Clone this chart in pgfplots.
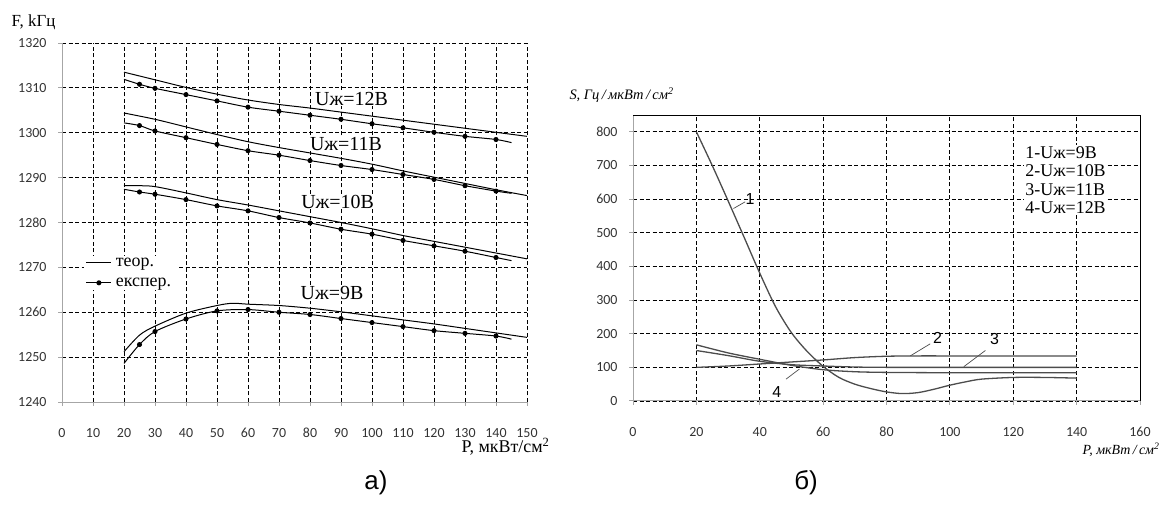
\documentclass[border=0pt]{standalone}
\usepackage{fontspec}
\setmainfont{Liberation Serif}
\newfontfamily\carlito{Carlito}
\newfontfamily\lsans{Liberation Sans}
\usepackage{pgfplots}
\pgfplotsset{compat=1.18}
\pgfplotsset{
 common/.style={
  scale only axis,
  axis x line*=bottom, axis y line*=left,
  axis line style={draw=black!35, line width=1bp, -},
  every tick/.style={draw=black!35, line width=1bp},
  tick align=outside,
  major tick length=4bp,
  grid=major,
  grid style={black, line width=0.9bp, dash pattern=on 4bp off 2.5bp},
  ticklabel style={font=\carlito\fontsize{14}{14}\selectfont, text=black!80},
  /pgf/number format/assume math mode=true,
  /pgf/number format/1000 sep={},
  scaled ticks=false,
  xticklabel style={anchor=center, yshift=-27bp},
  yticklabel style={anchor=east, xshift=-8bp},
  clip=false,
 },
 th/.style={black, line width=1bp, smooth, tension=0.5, forget plot},
 ex/.style={black, line width=1bp, mark=*, mark size=2bp, only marks, forget plot},
 exl/.style={black, line width=1bp, smooth, tension=0.5, forget plot},
 cv/.style={black!70, line width=1.3bp, smooth, tension=0.5},
}
\begin{document}
\begin{tikzpicture}
% ---------------- left chart ----------------
\begin{axis}[common, at={(62bp,112bp)}, anchor=south west,
  width=465bp, height=359bp,
  xmin=0, xmax=150, ymin=1240, ymax=1320,
  xtick={0,10,...,150}, ytick={1240,1250,...,1320},
  legend image code/.code={\draw[mark repeat=2,mark phase=2,#1] plot coordinates {(0bp,0bp) (12.5bp,0bp) (25bp,0bp)};},
  legend style={at={(axis cs:7,1272.6)}, anchor=north west, draw=none, fill=white,
    font=\fontsize{18}{18}\selectfont, inner xsep=2bp, inner ysep=1bp,
    nodes={inner xsep=4bp, inner ysep=1bp}, row sep=8bp, cells={anchor=west}},
]
% 12 V
\addplot[th] coordinates {(20,1313.5) (30,1311.8) (40,1310.1) (50,1308.6) (60,1307.3) (70,1306.3) (80,1305.5) (90,1304.6) (100,1303.7) (110,1302.8) (120,1301.9) (130,1301.0) (140,1300.1) (150,1299.2)};
\addplot[exl] coordinates {(20,1311.9) (25,1310.8) (30,1309.9) (40,1308.5) (50,1307.1) (60,1305.7) (70,1304.8) (80,1303.9) (90,1303.0) (100,1302.0) (110,1301.1) (120,1300.1) (130,1299.2) (140,1298.5) (145,1297.8)};
\addplot[ex] coordinates {(25,1310.8) (30,1309.9) (40,1308.5) (50,1307.1) (60,1305.7) (70,1304.8) (80,1303.9) (90,1303.0) (100,1302.0) (110,1301.1) (120,1300.1) (130,1299.2) (140,1298.5)};
% 11 V
\addplot[th] coordinates {(20,1304.4) (30,1303.0) (40,1301.3) (50,1299.6) (60,1298.0) (70,1296.7) (80,1295.5) (90,1294.3) (100,1293.0) (110,1291.5) (120,1290.1) (130,1288.7) (140,1287.3) (150,1286.0)};
\addplot[exl] coordinates {(20,1302.2) (25,1301.6) (30,1300.4) (40,1298.9) (50,1297.4) (60,1296.0) (70,1295.0) (80,1293.8) (90,1292.7) (100,1291.8) (110,1290.7) (120,1289.6) (130,1288.2) (140,1287.0) (145,1286.5)};
\addplot[ex] coordinates {(25,1301.6) (30,1300.4) (40,1298.9) (50,1297.4) (60,1296.0) (70,1295.0) (80,1293.8) (90,1292.7) (100,1291.8) (110,1290.7) (120,1289.6) (130,1288.2) (140,1287.0)};
% 10 V
\addplot[th] coordinates {(20,1288.2) (25,1288.2) (30,1288.0) (40,1286.6) (50,1285.1) (60,1283.9) (70,1282.6) (80,1281.3) (90,1280.0) (100,1278.6) (110,1277.1) (120,1275.8) (130,1274.5) (140,1273.2) (150,1271.9)};
\addplot[exl] coordinates {(20,1287.4) (25,1286.8) (30,1286.3) (40,1285.1) (50,1283.7) (60,1282.6) (70,1281.1) (80,1279.9) (90,1278.5) (100,1277.4) (110,1276.0) (120,1274.8) (130,1273.6) (140,1272.2) (145,1271.5)};
\addplot[ex] coordinates {(25,1286.8) (30,1286.3) (40,1285.1) (50,1283.7) (60,1282.6) (70,1281.1) (80,1279.9) (90,1278.5) (100,1277.4) (110,1276.0) (120,1274.8) (130,1273.6) (140,1272.2)};
% 9 V
\addplot[th] coordinates {(20,1251.2) (25,1254.9) (30,1256.9) (40,1259.8) (50,1261.5) (55,1262.0) (60,1261.8) (70,1261.5) (80,1260.9) (90,1260.1) (100,1259.2) (110,1258.3) (120,1257.4) (130,1256.4) (140,1255.4) (150,1254.4)};
\addplot[exl] coordinates {(20,1248.6) (25,1252.8) (30,1255.7) (40,1258.5) (50,1260.3) (60,1260.6) (70,1260.0) (80,1259.5) (90,1258.6) (100,1257.7) (110,1256.8) (120,1255.9) (130,1255.3) (140,1254.7) (145,1254.0)};
\addplot[ex] coordinates {(25,1252.8) (30,1255.7) (40,1258.5) (50,1260.3) (60,1260.6) (70,1260.0) (80,1259.5) (90,1258.6) (100,1257.7) (110,1256.8) (120,1255.9) (130,1255.3) (140,1254.7)};
\addlegendimage{black, line width=1bp}
\addlegendentry{теор.}
\addlegendimage{black, line width=1bp, mark=*, mark size=2bp}
\addlegendentry{експер.}
\begin{scope}[every node/.style={font=\fontsize{20}{20}\selectfont, fill=white, inner sep=0.5bp}]
\node at (axis cs:93.4,1307.6) {Uж=12В};
\node at (axis cs:91.6,1297.6) {Uж=11В};
\node at (axis cs:88.9,1284.6) {Uж=10В};
\node at (axis cs:87.1,1264.2) {Uж=9В};
\end{scope}
\end{axis}
% ---------------- right chart ----------------
\begin{axis}[common, at={(633bp,113bp)}, anchor=south west,
  width=507bp, height=286bp,
  xmin=0, xmax=160, ymin=0, ymax=850,
  xtick={0,20,...,160}, ytick={0,100,...,800},
]
\addplot[cv] coordinates {(20,800) (25,700) (30,595) (35,488) (40,380) (45,280) (50,203) (55,147) (60,103) (65,70) (70,50) (75,37) (80,27) (85,22) (90,25) (95,35) (100,47) (105,57) (110,65) (120,70) (130,70) (140,68)};
\addplot[cv] coordinates {(20,100) (30,104) (40,110) (50,116) (60,122) (70,129) (80,133) (90,134) (100,134) (120,134) (140,134)};
\addplot[cv] coordinates {(20,150) (30,135) (40,118) (50,108) (60,104) (70,101) (80,100) (100,100) (120,100) (140,100)};
\addplot[cv] coordinates {(20,167) (30,143) (40,124) (50,106) (60,93) (70,87) (80,85) (100,84) (120,84) (140,84)};
\draw[black, line width=1bp] (rel axis cs:0,1) -- (rel axis cs:1,1) -- (rel axis cs:1,0);
\begin{scope}[black!70, line width=0.7bp]
\draw (axis cs:31.7,572) -- (axis cs:35.4,592);
\draw (axis cs:87.5,134) -- (axis cs:93.8,170);
\draw (axis cs:104.4,102) -- (axis cs:111.2,150);
\draw (axis cs:48.3,65) -- (axis cs:52.5,95);
\end{scope}
\begin{scope}[every node/.style={font=\lsans\fontsize{16}{16}\selectfont, inner sep=0.5bp}]
\node at (axis cs:36.9,600) {1};
\node at (axis cs:96.1,187) {2};
\node at (axis cs:114.1,184) {3};
\node at (axis cs:45.4,28) {4};
\end{scope}
\node[anchor=north west, fill=white, inner sep=1.5bp, align=left,
  font=\fontsize{18}{18.5}\selectfont] at (axis cs:123.3,762)
  {1-Uж=9В\\2-Uж=10В\\3-Uж=11В\\4-Uж=12В};
\end{axis}
% ---------------- free labels ----------------
\node[anchor=west, font=\fontsize{17}{17}\selectfont] at (8bp,492bp) {F, kГц};
\node[anchor=east, font=\fontsize{18}{18}\selectfont] at (553bp,67bp) {P, мкВт/см\textsuperscript{2}};
\node[anchor=west, font=\itshape\fontsize{14.5}{14.5}\selectfont] at (566bp,419bp) {S, Гц\,/\,мкВт\,/\,см\textsuperscript{2}};
\node[anchor=east, font=\itshape\fontsize{14}{14}\selectfont] at (1163bp,64bp) {P, мкВт\,/\,см\textsuperscript{2}};
\node[font=\lsans\fontsize{26}{26}\selectfont] at (376bp,31bp) {а)};
\node[font=\lsans\fontsize{26}{26}\selectfont] at (806bp,31bp) {б)};
\pgfresetboundingbox
\useasboundingbox (0,0) rectangle (1168bp,514bp);
\end{tikzpicture}
\end{document}
